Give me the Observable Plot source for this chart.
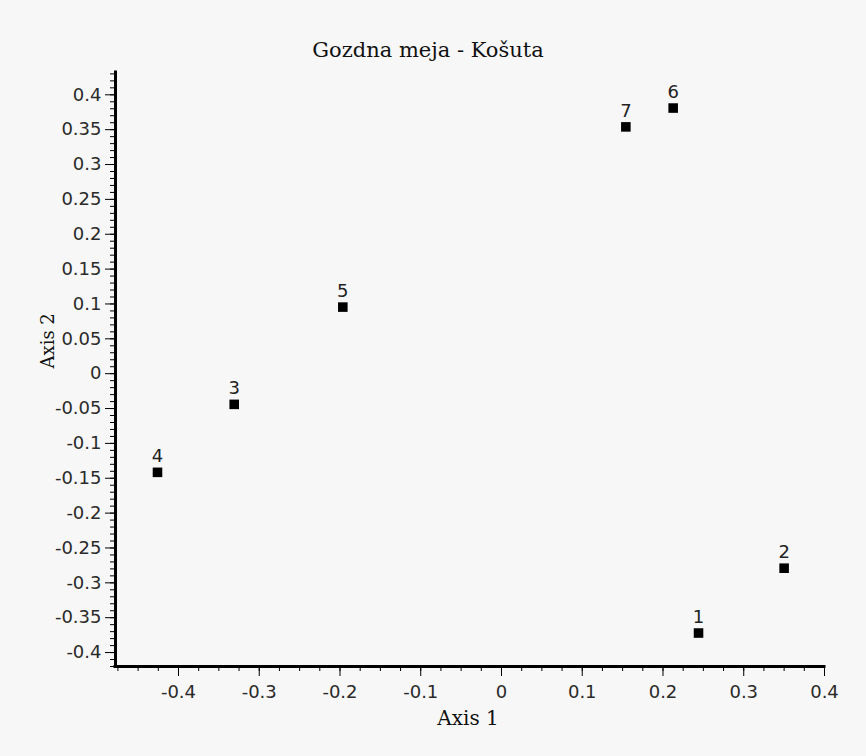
<!DOCTYPE html>
<html>
<head>
<meta charset="utf-8">
<script src="https://cdn.jsdelivr.net/npm/d3@7"></script>
<script src="https://cdn.jsdelivr.net/npm/@observablehq/plot@0.6"></script>
<style>
  html, body { margin: 0; padding: 0; background: #f7f7f7; }
  #chart { width: 866px; height: 756px; }
</style>
</head>
<body>
<div id="chart"></div>
<script>
// ---- data ----
const titleText = "Gozdna meja - Košuta";
const xLabel = "Axis 1";
const yLabel = "Axis 2";
const pointIds = ["1", "2", "3", "4", "5", "6", "7"];
const axis1Values = [0.244, 0.350, -0.331, -0.426, -0.1965, 0.2126, 0.154];
const axis2Values = [-0.372, -0.279, -0.044, -0.1415, 0.0955, 0.381, 0.354];
const xDomain = [-0.478, 0.4];
const yDomain = [-0.42, 0.432];
const xTicks = [-0.4, -0.3, -0.2, -0.1, 0, 0.1, 0.2, 0.3, 0.4];
const yTicks = [-0.4, -0.35, -0.3, -0.25, -0.2, -0.15, -0.1, -0.05, 0, 0.05, 0.1, 0.15, 0.2, 0.25, 0.3, 0.35, 0.4];
const xMinorStep = 0.025;
const yMinorStep = 0.01;

const points = pointIds.map((id, i) => ({id, x: axis1Values[i], y: axis2Values[i]}));
const xMinor = d3.range(Math.ceil(xDomain[0] / xMinorStep), Math.floor(xDomain[1] / xMinorStep + 1e-9) + 1).map(k => +(k * xMinorStep).toFixed(4));
const yMinor = d3.range(Math.ceil(yDomain[0] / yMinorStep), Math.floor(yDomain[1] / yMinorStep + 1e-9) + 1).map(k => +(k * yMinorStep).toFixed(4));
const fmt = d => String(+(+d).toFixed(2));

const serif = "DejaVu Serif";
const sans = "DejaVu Sans";

const chart = Plot.plot({
  width: 866,
  height: 756,
  marginLeft: 115,
  marginRight: 42,
  marginTop: 72,
  marginBottom: 90,
  style: {background: "#f7f7f7", fontFamily: sans, fontSize: "18px", color: "#222", overflow: "visible"},
  x: {domain: xDomain, label: null},
  y: {domain: yDomain, label: null},
  marks: [
    Plot.axisX(xMinor, {tickSize: 5, text: null, stroke: "black", label: null}),
    Plot.axisY(yMinor, {tickSize: 5, text: null, stroke: "black", label: null}),
    Plot.axisX(xTicks, {tickSize: 10, tickPadding: 9, tickFormat: fmt, stroke: "black", fill: "#2a2a2a", fontSize: 18, fontFamily: sans, label: null}),
    Plot.axisY(yTicks, {tickSize: 10, tickPadding: 4, tickFormat: fmt, stroke: "black", fill: "#2a2a2a", fontSize: 18, fontFamily: sans, label: null}),
    Plot.ruleX([xDomain[0]], {stroke: "black", strokeWidth: 3, strokeLinecap: "square"}),
    Plot.ruleY([yDomain[0]], {stroke: "black", strokeWidth: 3, strokeLinecap: "square"}),
    Plot.dot(points, {x: "x", y: "y", symbol: "square", r: 5.4, fill: "black", stroke: null}),
    Plot.text(points, {x: "x", y: "y", text: "id", lineAnchor: "bottom", dy: -10, fill: "#222", fontSize: 18, fontFamily: sans}),
    Plot.text([titleText], {frameAnchor: "top", text: d => d, lineAnchor: "bottom", dy: -16, dx: -42, fontFamily: serif, fontSize: 21, fill: "#111"}),
    Plot.text([xLabel], {frameAnchor: "bottom", text: d => d, lineAnchor: "bottom", dy: 58, dx: -2, fontFamily: serif, fontSize: 20, fill: "#111"}),
    Plot.text([yLabel], {frameAnchor: "left", text: d => d, lineAnchor: "bottom", rotate: -90, dx: -62, dy: -1, fontFamily: serif, fontSize: 18, fill: "#111"})
  ]
});
document.getElementById("chart").appendChild(chart);
</script>
</body>
</html>
